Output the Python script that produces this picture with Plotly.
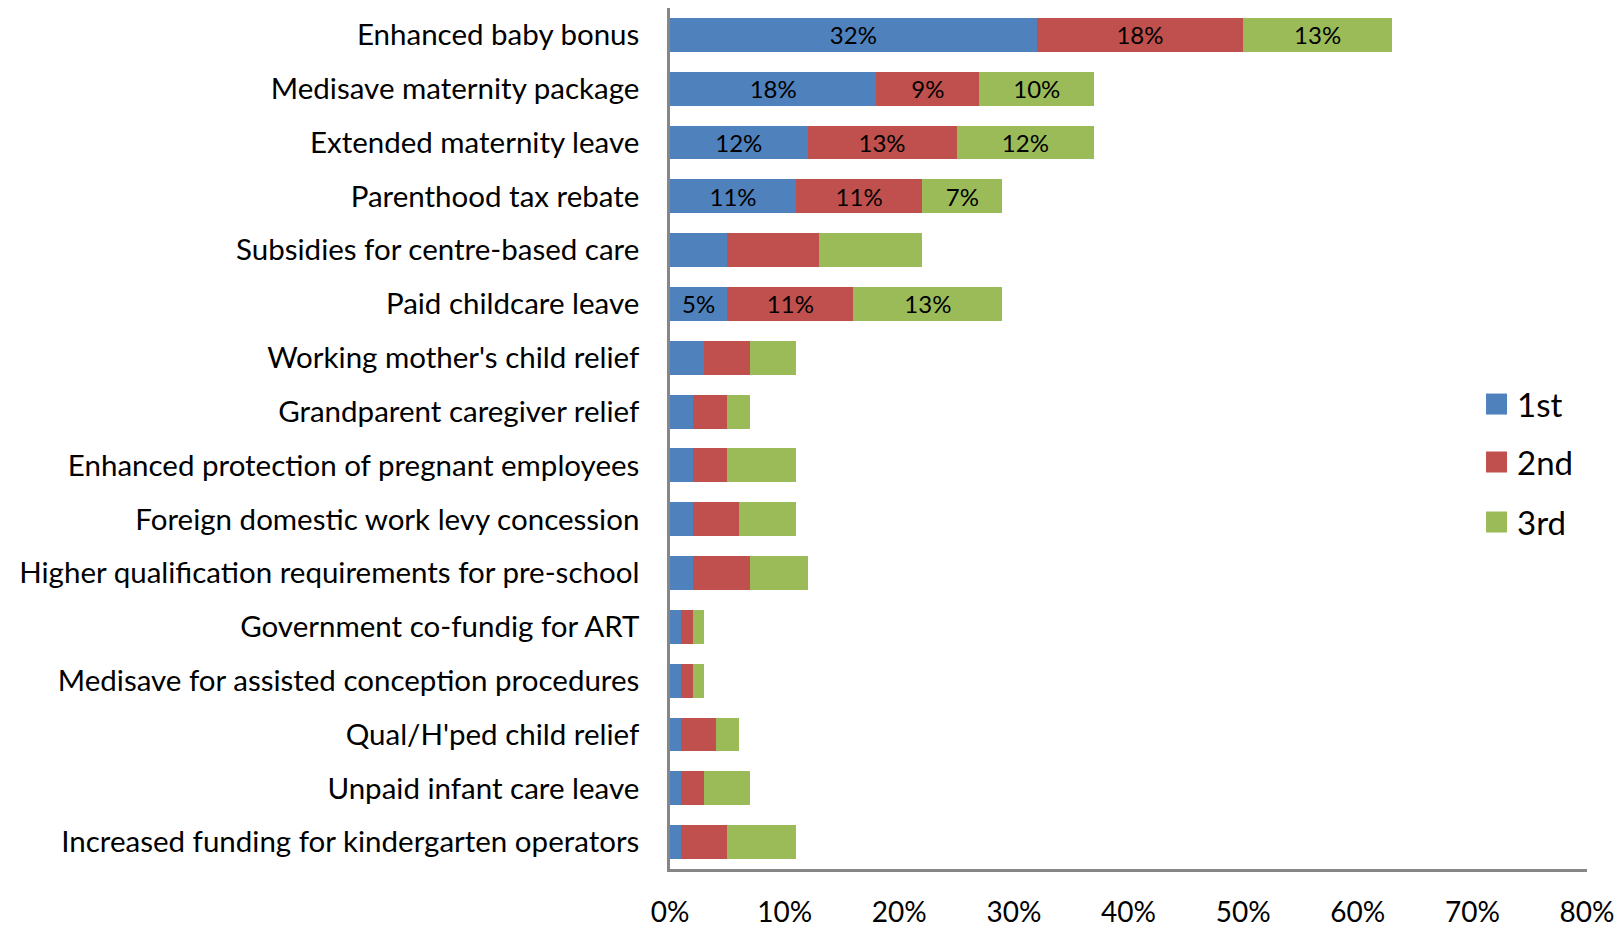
import plotly.graph_objects as go

# Policy measures, ranked by share of respondents choosing them 1st / 2nd / 3rd
measures = [
    "Enhanced baby bonus",
    "Medisave maternity package",
    "Extended maternity leave",
    "Parenthood tax rebate",
    "Subsidies for centre-based care",
    "Paid childcare leave",
    "Working mother's child relief",
    "Grandparent caregiver relief",
    "Enhanced protection of pregnant employees",
    "Foreign domestic work levy concession",
    "Higher qualification requirements for pre-school",
    "Government co-fundig for ART",
    "Medisave for assisted conception procedures",
    "Qual/H'ped child relief",
    "Unpaid infant care leave",
    "Increased funding for kindergarten operators",
]
first = [32, 18, 12, 11, 5, 5, 3, 2, 2, 2, 2, 1, 1, 1, 1, 1]
second = [18, 9, 13, 11, 8, 11, 4, 3, 3, 4, 5, 1, 1, 3, 2, 4]
third = [13, 10, 12, 7, 9, 13, 4, 2, 6, 5, 5, 1, 1, 2, 4, 6]

# Rows whose segments carry a value label
labelled = {"Enhanced baby bonus", "Medisave maternity package",
            "Extended maternity leave", "Parenthood tax rebate",
            "Paid childcare leave"}

series = [("1st", first, "#4F81BD"), ("2nd", second, "#C0504D"), ("3rd", third, "#9BBB59")]

FONT = "Lato"

fig = go.Figure()
for name, vals, color in series:
    texts = [f"{v}%" if m in labelled else "" for m, v in zip(measures, vals)]
    fig.add_trace(go.Bar(
        name=name,
        y=measures,
        x=[v / 100 for v in vals],
        orientation="h",
        marker=dict(color=color, line=dict(width=0)),
        text=texts,
        textposition="inside",
        insidetextanchor="middle",
        textangle=0,
        textfont=dict(family=FONT, size=24, color="black"),
        constraintext="none",
        hoverinfo="skip",
        showlegend=False,
    ))

# Legend: large square swatches with labels to their right
legend_y = [0.540, 0.4727, 0.403]
for (name, _, color), yc in zip(series, legend_y):
    fig.add_shape(
        type="rect", xref="paper", yref="paper",
        x0=0.8899, x1=0.9128, y0=yc - 0.0122, y1=yc + 0.0122,
        fillcolor=color, line=dict(width=0),
    )
    fig.add_annotation(
        xref="paper", yref="paper", x=0.922, y=yc,
        xanchor="left", yanchor="middle", text=name, showarrow=False,
        font=dict(family=FONT, size=33, color="black"),
    )

fig.update_layout(
    barmode="stack",
    bargap=0.37,
    width=1617,
    height=932,
    margin=dict(l=670, r=30, t=8, b=63, autoexpand=False),
    paper_bgcolor="white",
    plot_bgcolor="white",
    font=dict(family=FONT, color="black"),
    showlegend=False,
)

fig.update_xaxes(
    range=[0, 0.8],
    tickvals=[i / 10 for i in range(9)],
    tickformat=".0%",
    showgrid=False,
    zeroline=False,
    showline=True,
    linecolor="#868686",
    linewidth=2.5,
    ticks="",
    tickfont=dict(family=FONT, size=28, color="black"),
    ticklabelstandoff=17,
    automargin=False,
    fixedrange=True,
)
fig.update_yaxes(
    autorange="reversed",
    showgrid=False,
    zeroline=False,
    showline=True,
    linecolor="#868686",
    linewidth=2.5,
    ticks="",
    tickfont=dict(family=FONT, size=29.5, color="black"),
    ticklabelstandoff=22,
    automargin=False,
    fixedrange=True,
)

fig.write_html("out.html")
